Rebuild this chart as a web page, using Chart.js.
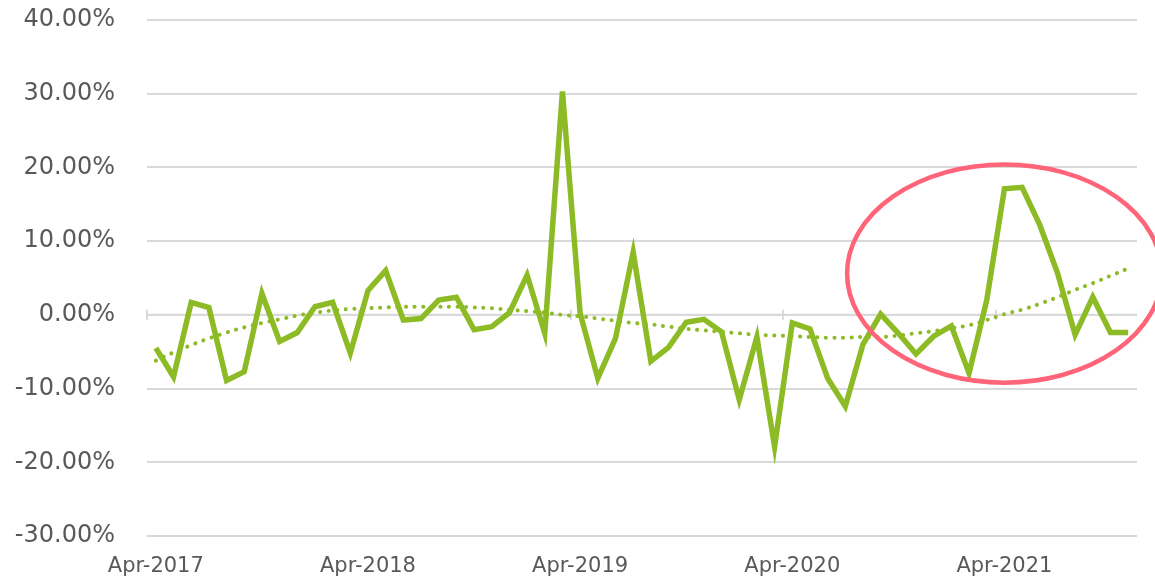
<!DOCTYPE html>
<html>
<head>
<meta charset="utf-8">
<script src="https://cdn.jsdelivr.net/npm/chart.js@4"></script>
<style>
  html, body { margin: 0; padding: 0; background: #fff; }
  #wrap { width: 1155px; height: 579px; }
</style>
</head>
<body>
<div id="wrap"><canvas id="chart"></canvas></div>
<script>
// monthly categories, Apr-2017 .. Nov-2021
const months = [
  'Apr-2017','May-2017','Jun-2017','Jul-2017','Aug-2017','Sep-2017','Oct-2017','Nov-2017','Dec-2017','Jan-2018','Feb-2018','Mar-2018',
  'Apr-2018','May-2018','Jun-2018','Jul-2018','Aug-2018','Sep-2018','Oct-2018','Nov-2018','Dec-2018','Jan-2019','Feb-2019','Mar-2019',
  'Apr-2019','May-2019','Jun-2019','Jul-2019','Aug-2019','Sep-2019','Oct-2019','Nov-2019','Dec-2019','Jan-2020','Feb-2020','Mar-2020',
  'Apr-2020','May-2020','Jun-2020','Jul-2020','Aug-2020','Sep-2020','Oct-2020','Nov-2020','Dec-2020','Jan-2021','Feb-2021','Mar-2021',
  'Apr-2021','May-2021','Jun-2021','Jul-2021','Aug-2021','Sep-2021','Oct-2021','Nov-2021'
];

// monthly change, %
const change = [
  -4.5, -8.4, 1.7, 1.0, -8.9, -7.7, 2.9, -3.6, -2.4, 1.1, 1.7, -5.2,
  3.3, 6.0, -0.7, -0.5, 2.0, 2.4, -2.0, -1.6, 0.3, 5.4, -2.5, 30.3,
  0.2, -8.6, -3.2, 8.5, -6.3, -4.4, -1.0, -0.6, -2.3, -11.5, -3.0, -17.9,
  -1.1, -1.9, -8.6, -12.4, -4.0, 0.1, -2.5, -5.3, -2.9, -1.5, -7.9, 2.0,
  17.1, 17.3, 12.2, 5.7, -2.7, 2.4, -2.4, -2.4
];

// dotted trendline
const trend = [
  -6.2, -5.1, -4.1, -3.2, -2.4, -1.7, -1.1, -0.6, -0.1, 0.3, 0.6, 0.8,
  0.9, 1.0, 1.1, 1.1, 1.1, 1.1, 1.0, 0.9, 0.7, 0.5, 0.3, 0.0,
  -0.2, -0.5, -0.8, -1.1, -1.3, -1.6, -1.9, -2.1, -2.3, -2.5, -2.7, -2.8,
  -2.9, -3.0, -3.1, -3.1, -3.0, -3.0, -2.8, -2.5, -2.2, -1.8, -1.4, -0.7,
  0.1, 0.7, 1.5, 2.4, 3.4, 4.3, 5.3, 6.3
];

const yTicks = [-30, -20, -10, 0, 10, 20, 30, 40];

const GREEN = '#8DBB25';
const GRID = '#D9D9D9';
const TEXT = '#595959';

// category axis sits on the zero line, tick marks every 12 months
const zeroAxis = {
  id: 'zeroAxis',
  beforeDatasetsDraw(chart) {
    const { ctx, scales: { x, y }, chartArea } = chart;
    const y0 = y.getPixelForValue(0);
    const step = x.getPixelForValue(1) - x.getPixelForValue(0);
    ctx.save();
    ctx.strokeStyle = GRID;
    ctx.lineWidth = 2;
    ctx.beginPath();
    ctx.moveTo(chartArea.left, y0);
    ctx.lineTo(chartArea.right, y0);
    for (let i = 0; i < months.length; i += 12) {
      const tx = Math.round(x.getPixelForValue(i) - step / 2);
      ctx.moveTo(tx, y0 - 5);
      ctx.lineTo(tx, y0 + 5);
    }
    ctx.stroke();
    ctx.restore();
  }
};

// red ellipse highlighting 2021
const highlight = {
  id: 'highlight',
  afterDatasetsDraw(chart) {
    const { ctx, scales: { x, y } } = chart;
    const cx = x.getPixelForValue(48);
    const cy = y.getPixelForValue(5.6);
    const rx = x.getPixelForValue(48 + 8.9) - cx;
    const ry = y.getPixelForValue(5.6 - 14.8) - cy;
    ctx.save();
    ctx.strokeStyle = '#FF6478';
    ctx.lineWidth = 4.5;
    ctx.beginPath();
    ctx.ellipse(cx, cy, rx, ry, 0, 0, Math.PI * 2);
    ctx.stroke();
    ctx.restore();
  }
};

new Chart(document.getElementById('chart'), {
  type: 'line',
  data: {
    labels: months,
    datasets: [
      {
        label: 'Trend',
        data: trend,
        borderColor: GREEN,
        borderWidth: 4,
        borderDash: [0.1, 8.5],
        borderCapStyle: 'round',
        pointRadius: 0,
        tension: 0.4,
        fill: false
      },
      {
        label: 'Change',
        data: change,
        borderColor: GREEN,
        borderWidth: 5.5,
        borderJoinStyle: 'miter',
        pointRadius: 0,
        tension: 0,
        fill: false
      }
    ]
  },
  options: {
    responsive: true,
    maintainAspectRatio: false,
    animation: false,
    layout: { padding: { top: 20, right: 18, bottom: 0, left: 0 } },
    plugins: {
      legend: { display: false },
      tooltip: { enabled: false }
    },
    scales: {
      x: {
        offset: true,
        grid: { display: false },
        border: { display: false },
        afterFit: (s) => { s.height = 43; s.paddingLeft = 0; s.paddingRight = 0; },
        ticks: {
          autoSkip: false,
          maxRotation: 0,
          padding: 10,
          color: TEXT,
          font: { family: 'DejaVu Sans', size: 21 },
          callback: (v, i) => (i % 12 === 0 ? months[i] : '')
        }
      },
      y: {
        min: -30,
        max: 40,
        afterFit: (s) => { s.width = 147; s.paddingTop = 0; s.paddingBottom = 0; },
        afterBuildTicks: (s) => { s.ticks = yTicks.map(v => ({ value: v })); },
        grid: { color: GRID, lineWidth: 2, drawTicks: false },
        border: { display: false },
        ticks: {
          padding: 32,
          color: TEXT,
          font: { family: 'DejaVu Sans', size: 24 },
          callback: (v) => v.toFixed(2) + '%'
        }
      }
    }
  },
  plugins: [zeroAxis, highlight]
});
</script>
</body>
</html>
